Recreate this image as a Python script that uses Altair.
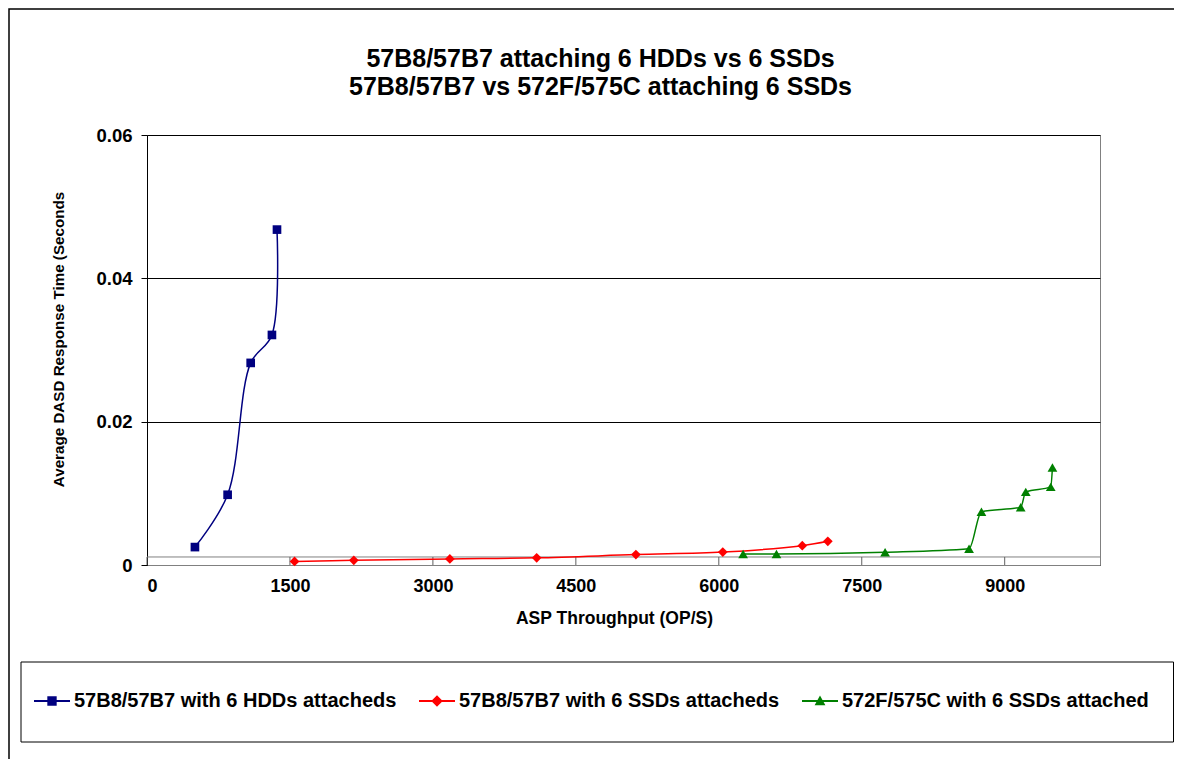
import altair as alt
import pandas as pd

series_names = [
    "57B8/57B7 with 6 HDDs attacheds",
    "57B8/57B7 with 6 SSDs attacheds",
    "572F/575C with 6 SSDs attached",
]
series_colors = ["#000080", "#FF0000", "#008000"]

hdd_x = [503, 846, 1088, 1311, 1364]
hdd_y = [0.0025, 0.0098, 0.0282, 0.0321, 0.0468]
ssd_x = [1548, 2170, 3178, 4089, 5130, 6042, 6876, 7144]
ssd_y = [0.0005, 0.00065, 0.00085, 0.001, 0.00145, 0.0018, 0.0027, 0.0033]
new_x = [6255, 6605, 7745, 8626, 8756, 9168, 9221, 9483, 9501]
new_y = [0.00153, 0.00153, 0.00177, 0.00227, 0.00744, 0.00805, 0.0102, 0.0109, 0.0136]

x_ticks = [0, 1500, 3000, 4500, 6000, 7500, 9000]
y_ticks = [0, 0.02, 0.04, 0.06]
baseline_value = 0.00112

rows = []
for name, xs, ys in zip(series_names, [hdd_x, ssd_x, new_x], [hdd_y, ssd_y, new_y]):
    for i, (a, b) in enumerate(zip(xs, ys)):
        rows.append({"series": name, "ops": a, "resp": b, "order": i})
df = pd.DataFrame(rows)
ticks_df = pd.DataFrame({"t": x_ticks})
one = pd.DataFrame({"k": [0]})

FONT = "Liberation Sans"
xscale = alt.Scale(domain=[0, 10000], nice=False, zero=True)
yscale = alt.Scale(domain=[0, 0.06], nice=False)

x_axis = alt.Axis(values=x_ticks, format="d", title="ASP Throughput (OP/S)",
                  grid=False, ticks=False, domainColor="#808080",
                  labelFont=FONT, labelFontWeight="bold", labelFontSize=18,
                  labelColor="black", labelPadding=12,
                  titleFont=FONT, titleFontWeight="bold", titleFontSize=17.5,
                  titleColor="black", titlePadding=14, titleX=467)
y_axis = alt.Axis(values=y_ticks, format=".2~f",
                  title="Average DASD Response Time (Seconds",
                  grid=True, gridColor="black", gridOpacity=1,
                  domainColor="black", tickColor="black", tickSize=6,
                  labelFont=FONT, labelFontWeight="bold", labelFontSize=18.5,
                  labelColor="black", labelPadding=9,
                  titleFont=FONT, titleFontWeight="bold", titleFontSize=15.2,
                  titleColor="black", titleX=-89, titleY=204,
                  titleBaseline="middle", titleAngle=270)

base = alt.Chart(df)

marker_shapes = ["square", "diamond", "triangle-up"]
marker_sizes = [75, 95, 95]
curve_styles = ["catmull-rom", "catmull-rom", "monotone"]
series_layers = []
for k, (name, shp, col, sz, cv) in enumerate(
        zip(series_names, marker_shapes, series_colors, marker_sizes, curve_styles)):
    sub = base.transform_filter(alt.datum.series == name)
    if k == 0:
        enc = dict(x=alt.X("ops:Q", scale=xscale, axis=x_axis),
                   y=alt.Y("resp:Q", scale=yscale, axis=y_axis))
    else:
        enc = dict(x="ops:Q", y="resp:Q")
    series_layers.append(
        sub.mark_line(interpolate=cv, strokeWidth=1.5, color=col).encode(order="order:Q", **enc)
    )
    series_layers.append(
        sub.mark_point(shape=shp, filled=True, size=sz, color=col, opacity=1).encode(x="ops:Q", y="resp:Q")
    )

baseline = alt.Chart(one).mark_rule(color="#808080", strokeWidth=1).encode(
    x=alt.datum(0), x2=alt.datum(10000), y=alt.datum(baseline_value)
)
tick_rules = alt.Chart(ticks_df).mark_rule(color="#606060", strokeWidth=1).encode(
    x="t:Q", y=alt.datum(0), y2=alt.datum(baseline_value)
)

legend_paths = [
    "M-1,-0.05H1V0.05H-1ZM-0.26,-0.26H0.26V0.26H-0.26Z",
    "M-1,-0.05H1V0.05H-1ZM0,-0.32L0.32,0L0,0.32L-0.32,0Z",
    "M-1,-0.05H1V0.05H-1ZM0,-0.3L0.3,0.24L-0.3,0.24Z",
]
leg = dict(
    title=None, orient="none", legendX=-113, legendY=548, direction="horizontal",
    labelFont=FONT, labelFontWeight="bold", labelFontSize=20, labelColor="black",
    labelLimit=2000, labelOffset=4, columnPadding=22, padding=0,
    symbolSize=1296, symbolStrokeWidth=0, symbolOpacity=1,
)
legend_layer = base.transform_filter("false").mark_point(filled=True, opacity=1).encode(
    x="ops:Q", y="resp:Q",
    color=alt.Color("series:N", scale=alt.Scale(domain=series_names, range=series_colors),
                    legend=alt.Legend(**leg)),
    shape=alt.Shape("series:N", scale=alt.Scale(domain=series_names, range=legend_paths),
                    legend=alt.Legend(**leg)),
)

legend_box = alt.Chart(one).mark_rect(fill="white", stroke="black", strokeWidth=1).encode(
    x=alt.value(-126), x2=alt.value(1026.5), y=alt.value(527), y2=alt.value(607)
)
outer_box = alt.Chart(one).mark_rect(fill=None, stroke="black", strokeWidth=1.5).encode(
    x=alt.value(-138), x2=alt.value(1100), y=alt.value(-126), y2=alt.value(700)
)

chart = alt.layer(
    outer_box, legend_box, baseline, tick_rules, *series_layers, legend_layer
).properties(
    width=953, height=430,
    autosize=alt.AutoSizeParams(type="none"),
    padding={"left": 139, "top": 127, "right": 74, "bottom": 194},
    title=alt.TitleParams(
        ["57B8/57B7 attaching 6 HDDs vs 6 SSDs", "57B8/57B7 vs 572F/575C attaching 6 SSDs"],
        font=FONT, fontWeight="bold", fontSize=25, color="black",
        anchor="middle", frame="group", dx=-23, dy=92, offset=0, lineHeight=28,
    ),
).configure(background="white").configure_view(stroke="#808080", strokeWidth=1)

chart.save("out.html", embed_options={"renderer": "svg", "actions": False})
